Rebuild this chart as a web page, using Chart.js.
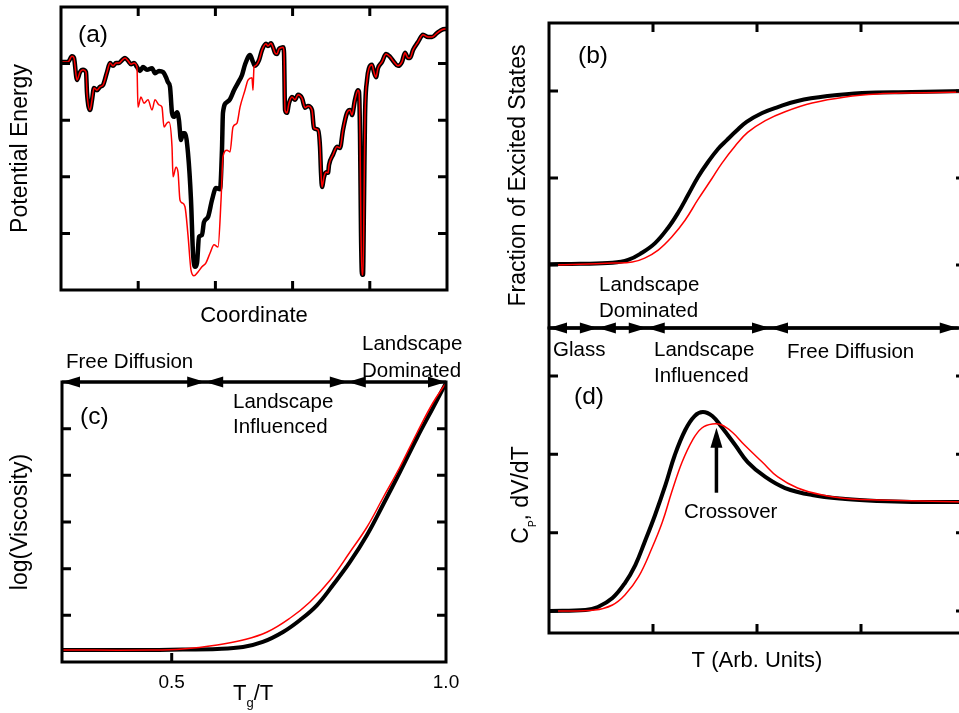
<!DOCTYPE html>
<html>
<head>
<meta charset="utf-8">
<script src="https://cdn.jsdelivr.net/npm/chart.js@4.4.1/dist/chart.umd.min.js"></script>
<style>
html, body { margin:0; padding:0; background:#ffffff; width:959px; height:713px; overflow:hidden; position:relative; }
canvas { position:absolute; display:block; }
</style>
</head>
<body>
<canvas id="chartA" width="480" height="330" style="left:0px;top:0px;"></canvas>
<canvas id="chartC" width="480" height="383" style="left:0px;top:330px;"></canvas>
<canvas id="chartB" width="520" height="335" style="left:480px;top:0px;"></canvas>
<canvas id="chartD" width="520" height="393" style="left:480px;top:320px;"></canvas>
<script>
const FONT = '"Liberation Sans", Arial, Helvetica, sans-serif';

// ---------- Panel (a): potential energy landscape (arbitrary units 0..50) ----------
const aHeadX = [0, 0.91, 1.42, 1.68, 2.07, 2.46, 2.85, 3.24, 3.37, 3.76, 4.02, 4.27, 4.66, 5.05, 5.44, 5.96, 6.35, 6.74, 7.12, 7.51, 7.90, 8.29, 8.68, 9.07, 9.46, 9.84];
const aHeadY = [40.3, 40.3, 41.3, 41.0, 37.1, 38.5, 38.9, 38.5, 34.8, 31.8, 33.6, 35.7, 35.3, 35.9, 36.2, 38.5, 40.1, 39.6, 40.1, 40.1, 40.6, 41.0, 40.5, 39.9, 40.1, 39.4];
const aBlackMidX = [10.23, 10.62, 11.14, 11.79, 12.18, 12.69, 13.21, 13.60, 13.86, 14.12, 14.38, 14.64, 15.03, 15.28, 15.54, 15.80, 16.06, 16.45, 16.84, 17.10, 17.36, 17.62, 17.88, 18.26, 18.52, 19.04, 19.56, 20.08, 20.60, 20.85, 20.98, 21.50, 21.89, 22.41, 22.93, 23.45, 23.83, 24.48, 24.87];
const aBlackMidY = [38.7, 39.4, 38.9, 39.2, 38.3, 38.7, 38.5, 37.6, 36.7, 35.9, 31.3, 30.6, 31.4, 30.0, 26.5, 27.7, 27.7, 24.2, 15.9, 6.5, 4.1, 4.8, 9.4, 9.7, 12.0, 12.9, 15.9, 18.0, 17.8, 24.7, 31.3, 33.2, 33.7, 35.3, 36.6, 38.0, 39.8, 41.5, 40.3];
const aRedMidX = [9.97, 10.36, 10.75, 11.27, 11.79, 12.18, 12.69, 13.08, 13.34, 13.73, 13.99, 14.38, 14.51, 14.90, 15.16, 15.41, 15.67, 16.06, 16.45, 16.84, 17.23, 17.75, 18.26, 18.78, 19.30, 19.82, 20.34, 20.73, 20.98, 21.50, 21.89, 22.28, 22.80, 23.19, 23.83, 24.22, 24.74, 24.87, 25.0];
const aRedMidY = [32.3, 34.1, 33.0, 33.6, 31.8, 33.6, 32.7, 32.3, 28.8, 29.5, 29.7, 25.3, 20.0, 21.7, 20.8, 15.9, 15.4, 14.7, 9.7, 3.5, 2.5, 3.2, 4.1, 4.8, 6.5, 8.0, 7.6, 15.9, 23.5, 24.7, 24.4, 28.8, 29.5, 32.3, 35.3, 37.1, 37.5, 35.3, 39.4];
const aTailX = [25.13, 25.65, 26.04, 26.55, 26.81, 27.20, 27.46, 27.72, 27.98, 28.24, 28.50, 28.76, 28.89, 29.02, 29.27, 29.53, 29.92, 30.31, 30.70, 31.22, 31.61, 32.0, 32.51, 32.77, 33.29, 33.55, 33.68, 33.81, 34.07, 34.33, 34.59, 34.72, 35.23, 35.75, 36.14, 36.53, 37.05, 37.44, 37.69, 38.08, 38.47, 38.60, 38.73, 38.86, 38.99, 39.12, 39.25, 39.38, 39.64, 39.90, 40.28, 40.54, 40.80, 41.06, 41.58, 42.10, 42.62, 43.13, 43.65, 44.17, 44.56, 44.95, 45.21, 45.60, 46.24, 46.89, 47.54, 48.06, 48.70, 49.22, 49.74, 50];
const aTailY = [39.6, 40.6, 42.4, 43.5, 43.1, 43.6, 42.9, 41.9, 41.7, 42.6, 42.8, 42.9, 41.9, 31.8, 31.3, 33.0, 34.1, 33.6, 34.5, 33.9, 32.2, 32.5, 31.8, 28.6, 28.3, 25.3, 20.7, 18.2, 20.0, 20.8, 20.7, 22.1, 23.9, 25.3, 25.1, 28.3, 31.3, 31.8, 30.9, 33.6, 35.3, 35.0, 27.7, 10.1, 2.7, 2.7, 15.9, 30.6, 37.1, 39.2, 39.8, 38.5, 37.6, 39.2, 40.3, 41.7, 41.2, 40.3, 39.6, 40.3, 41.9, 41.0, 41.0, 42.4, 43.8, 45.1, 44.7, 44.7, 45.4, 45.9, 46.1, 46.1];
const aXTicks = [10, 20, 30, 40];
const aYTicks = [10, 20, 30, 40];

// ---------- Panel (b): fraction of excited states vs T ----------
const bBlackX = [0, 0.30, 0.61, 0.76, 0.89, 1.02, 1.144, 1.24, 1.337, 1.433, 1.529, 1.625, 1.71, 1.80, 1.90, 2.05, 2.20, 2.39, 2.68, 3.01, 3.49, 4.0];
const bBlackY = [0.005, 0.007, 0.013, 0.029, 0.069, 0.126, 0.213, 0.299, 0.402, 0.506, 0.592, 0.667, 0.718, 0.770, 0.823, 0.874, 0.908, 0.943, 0.971, 0.989, 0.994, 1.0];
const bRedX = [0, 0.30, 0.61, 0.80, 0.92, 1.05, 1.18, 1.31, 1.43, 1.57, 1.66, 1.79, 1.91, 2.08, 2.27, 2.53, 2.85, 3.16, 3.49, 4.0];
const bRedY = [0, 0.004, 0.011, 0.017, 0.040, 0.086, 0.161, 0.259, 0.374, 0.5, 0.583, 0.684, 0.762, 0.830, 0.881, 0.931, 0.966, 0.983, 0.989, 0.994];
const tXTicks = [1, 2, 3];
const bYTicks = [0, 0.5, 1.0];

// ---------- Panel (c): log(viscosity) vs Tg/T ----------
const cBlackX = [0.30, 0.46, 0.52, 0.583, 0.630, 0.666, 0.703, 0.734, 0.765, 0.794, 0.825, 0.856, 0.885, 0.916, 0.947, 0.976, 1.0];
const cBlackY = [0.257, 0.257, 0.268, 0.279, 0.321, 0.429, 0.643, 0.900, 1.221, 1.650, 2.143, 2.721, 3.364, 4.071, 4.800, 5.443, 5.98];
const cRedX = [0.30, 0.46, 0.52, 0.583, 0.630, 0.674, 0.716, 0.752, 0.789, 0.825, 0.856, 0.885, 0.916, 0.947, 0.976, 1.0];
const cRedY = [0.257, 0.257, 0.279, 0.364, 0.471, 0.643, 0.943, 1.286, 1.757, 2.357, 2.893, 3.514, 4.178, 4.907, 5.550, 5.98];
const cXTickMarks = [0.5];
const cXTickLabels = [0.5, 1.0];
const cYTicks = [1, 2, 3, 4, 5];
const phaseBoundsC = [0.3, 0.561, 0.821, 1.0];
const phaseNamesC = ['Free Diffusion', 'Landscape Influenced', 'Landscape Dominated'];

// ---------- Panel (d): Cp, dV/dT vs T ----------
const dBlackX = [0, 0.35, 0.47, 0.61, 0.73, 0.83, 0.92, 1.02, 1.12, 1.21, 1.31, 1.40, 1.48, 1.57, 1.66, 1.79, 1.91, 2.08, 2.27, 2.53, 2.85, 3.16, 3.49, 4.0];
const dBlackY = [0, 0.013, 0.051, 0.166, 0.357, 0.587, 0.881, 1.226, 1.609, 1.992, 2.311, 2.489, 2.540, 2.489, 2.349, 2.119, 1.902, 1.711, 1.570, 1.481, 1.430, 1.404, 1.392, 1.392];
const dRedX = [0, 0.44, 0.61, 0.73, 0.86, 0.99, 1.09, 1.18, 1.28, 1.38, 1.47, 1.57, 1.66, 1.76, 1.88, 2.05, 2.20, 2.39, 2.63, 2.91, 3.16, 4.0];
const dRedY = [0, 0.013, 0.077, 0.204, 0.434, 0.804, 1.136, 1.519, 1.902, 2.183, 2.336, 2.387, 2.375, 2.285, 2.119, 1.902, 1.711, 1.570, 1.481, 1.430, 1.417, 1.392];
const dYTicks = [0, 1, 2, 3];
const phaseBoundsT = [0, 0.47, 0.94, 2.125, 3.93];
const phaseNamesT = ['Glass', 'Landscape Dominated', 'Landscape Influenced', 'Free Diffusion'];
const crossover = { x: 1.61, tailY: 1.51, tipY: 2.34, label: 'Crossover' };

// ---------- helpers ----------
function pts(xs, ys) { return xs.map((x, i) => ({ x: x, y: ys[i] })); }
function lineSet(data, color, width, order, smooth) {
  const d = { data: data, borderColor: color, borderWidth: width, pointRadius: 0, fill: false,
              order: order, borderJoinStyle: 'round', borderCapStyle: 'round' };
  if (smooth) { d.tension = 0.4; d.cubicInterpolationMode = 'default'; }
  else { d.cubicInterpolationMode = 'monotone'; }
  return d;
}
function scaleOpts(o) {
  const s = {
    type: 'linear', min: o.min, max: o.max, display: o.display !== false,
    position: o.isX ? 'bottom' : 'left',
    grid: { display: false, drawTicks: false },
    border: { display: false },
    ticks: { display: false },
    title: { display: !!o.title, text: o.title || '', color: '#000',
             font: { family: FONT, size: o.isX ? 22 : 23 }, padding: o.titlePad || 0 },
    afterFit: function (sc) { if (o.isX) sc.height = o.size; else sc.width = o.size; }
  };
  if (o.labels) {
    s.ticks = { display: true, color: '#000', font: { family: FONT, size: 19 }, padding: o.tickPad,
                autoSkip: false, maxRotation: 0, minRotation: 0, callback: v => Number(v).toFixed(1) };
    s.afterBuildTicks = function (sc) { sc.ticks = o.labels.map(v => ({ value: v })); };
  }
  return s;
}
function arrowHead(ctx, tipX, y, dir) {
  const len = 18, hw = 5.5;
  ctx.beginPath();
  ctx.moveTo(tipX, y);
  ctx.lineTo(tipX + dir * len, y - hw);
  ctx.lineTo(tipX + dir * len, y + hw);
  ctx.closePath();
  ctx.fill();
}
function richText(ctx, parts, x, y, rotate, center) {
  ctx.save();
  ctx.translate(x, y);
  if (rotate) ctx.rotate(-Math.PI / 2);
  ctx.textBaseline = 'alphabetic'; ctx.textAlign = 'left';
  let w = 0;
  parts.forEach(p => { ctx.font = p.size + 'px ' + FONT; p.w = ctx.measureText(p.t).width; w += p.w; });
  let cx = center ? -w / 2 : 0;
  parts.forEach(p => { ctx.font = p.size + 'px ' + FONT; ctx.fillText(p.t, cx, p.dy || 0); cx += p.w; });
  ctx.restore();
}
function frame(cfg) {
  return {
    id: 'frame',
    afterDatasetsDraw(chart) {
      const ctx = chart.ctx, a = chart.chartArea, xs = chart.scales.x, ys = chart.scales.y;
      const ox = cfg.ox, oy = cfg.oy;
      ctx.save();
      ctx.strokeStyle = '#000'; ctx.fillStyle = '#000'; ctx.lineWidth = 3;
      ctx.strokeRect(a.left, a.top, a.right - a.left, a.bottom - a.top);
      const L = 9;
      ctx.beginPath();
      (cfg.xTop || []).forEach(v => { const p = xs.getPixelForValue(v); ctx.moveTo(p, a.top); ctx.lineTo(p, a.top + L); });
      (cfg.xBottom || []).forEach(v => { const p = xs.getPixelForValue(v); ctx.moveTo(p, a.bottom); ctx.lineTo(p, a.bottom - L); });
      (cfg.yLeft || []).forEach(v => { const p = ys.getPixelForValue(v); ctx.moveTo(a.left, p); ctx.lineTo(a.left + L, p); });
      (cfg.yRight || []).forEach(v => { const p = ys.getPixelForValue(v); ctx.moveTo(a.right, p); ctx.lineTo(a.right - L, p); });
      ctx.stroke();
      if (cfg.bar) {
        const yy = cfg.bar.edge === 'top' ? a.top : a.bottom;
        const b = cfg.bar.bounds.map(v => xs.getPixelForValue(v));
        ctx.beginPath(); ctx.moveTo(b[0], yy); ctx.lineTo(b[b.length - 1], yy); ctx.stroke();
        for (let i = 0; i < b.length - 1; i++) { arrowHead(ctx, b[i], yy, 1); arrowHead(ctx, b[i + 1], yy, -1); }
      }
      ctx.textAlign = 'left'; ctx.textBaseline = 'alphabetic';
      (cfg.texts || []).forEach(t => { ctx.font = (t.size || 20.5) + 'px ' + FONT; ctx.fillText(t.t, t.x - ox, t.y - oy); });
      if (cfg.extra) cfg.extra(chart, ctx, ox, oy);
      ctx.restore();
    }
  };
}
function baseOptions(padding, scales) {
  return {
    responsive: false, animation: false, devicePixelRatio: 1, events: [],
    layout: { padding: padding },
    plugins: { legend: { display: false }, tooltip: { enabled: false } },
    elements: { point: { radius: 0 } },
    scales: scales
  };
}
function twoLine(name) { const i = name.indexOf(' '); return [name.slice(0, i), name.slice(i + 1)]; }

Chart.defaults.font.family = FONT;
Chart.defaults.color = '#000';

// ---------- Chart (a) ----------
new Chart(document.getElementById('chartA'), {
  type: 'line',
  data: { datasets: [
    lineSet(pts(aHeadX.concat(aRedMidX, aTailX), aHeadY.concat(aRedMidY, aTailY)), '#ff0000', 1.5, 0, false),
    lineSet(pts(aHeadX.concat(aBlackMidX, aTailX), aHeadY.concat(aBlackMidY, aTailY)), '#000000', 4.5, 1, false)
  ] },
  options: baseOptions({ top: 7, right: 33, bottom: 0, left: 0 }, {
    x: scaleOpts({ min: 0, max: 50, isX: true, size: 40, title: 'Coordinate', titlePad: { top: 0, bottom: 1 } }),
    y: scaleOpts({ min: 0, max: 50, isX: false, size: 61, title: 'Potential Energy', titlePad: { top: 7, bottom: 0 } })
  }),
  plugins: [frame({ ox: 0, oy: 0, xTop: aXTicks, xBottom: aXTicks, yLeft: aYTicks, yRight: aYTicks,
    texts: [{ t: '(a)', x: 78, y: 42, size: 24.5 }] })]
});

// ---------- Chart (c) ----------
const cInfl = twoLine(phaseNamesC[1]), cDom = twoLine(phaseNamesC[2]);
new Chart(document.getElementById('chartC'), {
  type: 'line',
  data: { datasets: [
    lineSet(pts(cRedX, cRedY), '#ff0000', 1.5, 0, true),
    lineSet(pts(cBlackX, cBlackY), '#000000', 4, 1, true)
  ] },
  options: baseOptions({ top: 52, right: 34, bottom: 0, left: 0 }, {
    x: scaleOpts({ min: 0.3, max: 1.0, isX: true, size: 51, labels: cXTickLabels, tickPad: 9 }),
    y: scaleOpts({ min: 0, max: 6, isX: false, size: 62, title: 'log(Viscosity)', titlePad: { top: 7, bottom: 0 } })
  }),
  plugins: [frame({ ox: 0, oy: 330, xBottom: cXTickMarks, yLeft: cYTicks, yRight: cYTicks,
    bar: { edge: 'top', bounds: phaseBoundsC },
    texts: [
      { t: '(c)', x: 80, y: 424, size: 24.5 },
      { t: phaseNamesC[0], x: 66, y: 367.5 },
      { t: cInfl[0], x: 233, y: 407.5 }, { t: cInfl[1], x: 233, y: 433 },
      { t: cDom[0], x: 362, y: 350 }, { t: cDom[1], x: 362, y: 376.5 }
    ],
    extra: (chart, ctx, ox, oy) => {
      richText(ctx, [{ t: 'T', size: 22 }, { t: 'g', size: 13, dy: 7 }, { t: '/T', size: 22 }], 233 - ox, 700 - oy, false, false);
    } })]
});

// ---------- Chart (b) ----------
const bDom = twoLine(phaseNamesT[1]);
new Chart(document.getElementById('chartB'), {
  type: 'line',
  data: { datasets: [
    lineSet(pts(bRedX, bRedY), '#ff0000', 1.5, 0, true),
    lineSet(pts(bBlackX, bBlackY), '#000000', 4, 1, true)
  ] },
  options: baseOptions({ top: 23, right: 35, bottom: 7, left: 0 }, {
    x: scaleOpts({ min: 0, max: 4, isX: true, size: 0, display: false }),
    y: scaleOpts({ min: -0.362, max: 1.391, isX: false, size: 69, title: 'Fraction of Excited States', titlePad: { top: 24.7, bottom: 0 } })
  }),
  plugins: [frame({ ox: 480, oy: 0, xTop: tXTicks, yLeft: bYTicks, yRight: bYTicks,
    texts: [
      { t: '(b)', x: 578, y: 63, size: 24.5 },
      { t: bDom[0], x: 599, y: 290.7 }, { t: bDom[1], x: 599, y: 316.7 }
    ] })]
});

// ---------- Chart (d) ----------
const dInfl = twoLine(phaseNamesT[2]);
new Chart(document.getElementById('chartD'), {
  type: 'line',
  data: { datasets: [
    lineSet(pts(dRedX, dRedY), '#ff0000', 1.5, 0, true),
    lineSet(pts(dBlackX, dBlackY), '#000000', 4, 1, true)
  ] },
  options: baseOptions({ top: 8, right: 35, bottom: 0, left: 0 }, {
    x: scaleOpts({ min: 0, max: 4, isX: true, size: 80, title: 'T (Arb. Units)', titlePad: { top: 0, bottom: 38.4 } }),
    y: scaleOpts({ min: -0.281, max: 3.613, isX: false, size: 69 })
  }),
  plugins: [frame({ ox: 480, oy: 320, xBottom: tXTicks, yLeft: dYTicks, yRight: dYTicks,
    bar: { edge: 'top', bounds: phaseBoundsT },
    texts: [
      { t: '(d)', x: 574, y: 404, size: 24.5 },
      { t: phaseNamesT[0], x: 553, y: 356 },
      { t: dInfl[0], x: 654, y: 355.5 }, { t: dInfl[1], x: 654, y: 381.7 },
      { t: phaseNamesT[3], x: 787, y: 357.5 },
      { t: crossover.label, x: 684, y: 518 }
    ],
    extra: (chart, ctx, ox, oy) => {
      const xs = chart.scales.x, ys = chart.scales.y;
      const px = xs.getPixelForValue(crossover.x);
      const pTip = ys.getPixelForValue(crossover.tipY), pTail = ys.getPixelForValue(crossover.tailY);
      ctx.lineWidth = 3.5;
      ctx.beginPath(); ctx.moveTo(px, pTail); ctx.lineTo(px, pTip + 14); ctx.stroke();
      ctx.beginPath(); ctx.moveTo(px, pTip); ctx.lineTo(px - 6, pTip + 20); ctx.lineTo(px + 6, pTip + 20); ctx.closePath(); ctx.fill();
      richText(ctx, [{ t: 'C', size: 23 }, { t: 'P', size: 10, dy: 8 }, { t: ', dV/dT', size: 23 }], 528.3 - ox, 495 - oy, true, true);
    } })]
});
</script>
</body>
</html>
